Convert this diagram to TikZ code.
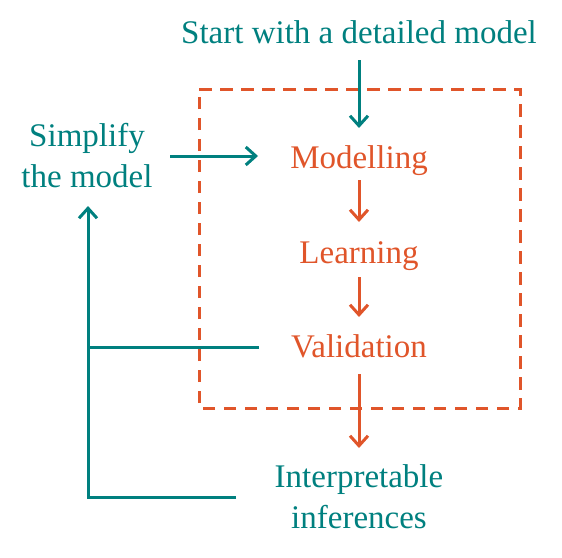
\documentclass[tikz,border=0pt]{standalone}
\usepackage{fontspec}
\setmainfont{Liberation Serif}
\usetikzlibrary{arrows.meta}
\definecolor{teal1}{HTML}{00807F}
\definecolor{orng}{HTML}{E0552A}
\tikzset{
  lbl/.style={font=\fontsize{33}{40.5}\selectfont, inner sep=0pt, align=center, anchor=base},
  tarr/.style={teal1, line width=3pt, -{Straight Barb[length=10pt,width=18pt,line width=3pt]}},
  oarr/.style={orng, line width=3pt, -{Straight Barb[length=10pt,width=18pt,line width=3pt]}},
  tline/.style={teal1, line width=3pt},
  box/.style={orng, line width=3pt, dash pattern=on 12.5pt off 8.5pt}
}
\begin{document}
\begin{tikzpicture}[x=1pt,y=-1pt]
\useasboundingbox (0,0) rectangle (562,557);
\node[lbl, teal1] (start) at (359,43) {Start with a detailed model};
\node[lbl, orng] (mod) at (359,168) {Modelling};
\node[lbl, orng] (learn) at (359,263) {Learning};
\node[lbl, orng] (valid) at (359,357) {Validation};
\node[lbl, teal1] (interp) at (359,528) {Interpretable\\inferences};
\node[lbl, teal1] (simp) at (87,187) {Simplify\\the model};
\draw[box] (199,89) -- (520,89) -- (520,408) -- (199,408) -- cycle;
\coordinate (s1) at (359,60); \coordinate (s2) at (359,128);
\draw[tarr] (s1) -- (s2);
\coordinate (m1) at (359,180); \coordinate (m2) at (359,222);
\draw[oarr] (m1) -- (m2);
\coordinate (l1) at (359,277); \coordinate (l2) at (359,317);
\draw[oarr] (l1) -- (l2);
\coordinate (v1) at (359,374); \coordinate (v2) at (359,448);
\draw[oarr] (v1) -- (v2);
\coordinate (p1) at (170,156); \coordinate (p2) at (258,156);
\draw[tarr] (p1) -- (p2);
\coordinate (vl) at (259,347); \coordinate (vm) at (88,347);
\draw[tline] (vl) -- (vm);
\coordinate (il) at (236,497); \coordinate (ic) at (88,497); \coordinate (it) at (88,206);
\draw[tarr] (il) -- (ic) -- (it);
\end{tikzpicture}
\end{document}
